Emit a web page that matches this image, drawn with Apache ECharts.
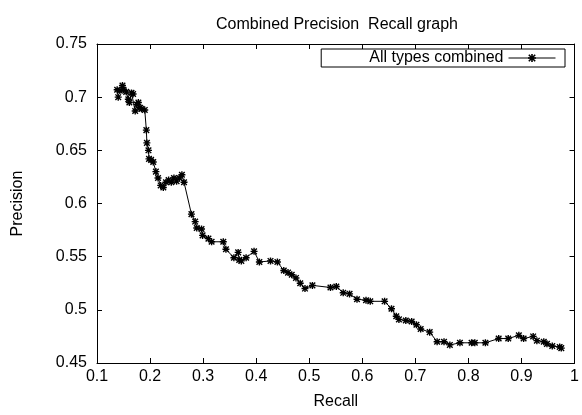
<!DOCTYPE html>
<html>
<head>
<meta charset="utf-8">
<script src="https://cdn.jsdelivr.net/npm/echarts@6/dist/echarts.min.js"></script>
<style>
html,body{margin:0;padding:0;background:#fff;}
#chart{width:582px;height:415px;}
</style>
</head>
<body>
<div id="chart"></div>
<script>
var titleText = 'Combined Precision  Recall graph';
var seriesName = 'All types combined';
var recall = [0.140,0.138,0.143,0.148,0.150,0.155,0.159,0.161,0.165,0.168,0.172,0.175,0.178,0.181,0.184,0.190,0.193,0.194,0.197,0.198,0.202,0.206,0.211,0.215,0.220,0.225,0.230,0.235,0.240,0.245,0.250,0.255,0.260,0.264,0.278,0.285,0.288,0.297,0.299,0.310,0.316,0.338,0.343,0.358,0.366,0.368,0.372,0.381,0.396,0.406,0.427,0.440,0.452,0.460,0.467,0.475,0.483,0.492,0.506,0.540,0.551,0.564,0.576,0.590,0.607,0.615,0.642,0.655,0.664,0.669,0.682,0.693,0.702,0.710,0.727,0.741,0.754,0.765,0.784,0.806,0.812,0.832,0.857,0.875,0.895,0.904,0.922,0.929,0.942,0.948,0.958,0.972,0.975];
var precision = [0.700,0.707,0.706,0.711,0.707,0.705,0.698,0.695,0.704,0.703,0.687,0.693,0.695,0.690,0.689,0.688,0.669,0.657,0.650,0.642,0.641,0.639,0.630,0.624,0.617,0.615,0.620,0.622,0.620,0.624,0.621,0.624,0.627,0.620,0.590,0.583,0.577,0.576,0.570,0.567,0.564,0.564,0.557,0.549,0.554,0.547,0.546,0.549,0.555,0.545,0.546,0.545,0.537,0.535,0.533,0.530,0.525,0.520,0.523,0.521,0.522,0.516,0.515,0.510,0.509,0.508,0.508,0.501,0.494,0.491,0.490,0.489,0.486,0.482,0.479,0.470,0.470,0.467,0.469,0.469,0.469,0.469,0.473,0.473,0.476,0.473,0.475,0.471,0.470,0.468,0.466,0.465,0.464];
var xMin = 0.1, xMax = 1.0, xStep = 0.1;
var yMin = 0.45, yMax = 0.75, yStep = 0.05;

var data = recall.map(function(r, i){ return [r, precision[i]]; });
var star = 'path://M-1,-5L1,-5L1,5L-1,5Z M-5,-1L5,-1L5,1L-5,1Z M-3.3,-4.7L4.7,3.3L3.3,4.7L-4.7,-3.3Z M3.3,-4.7L4.7,-3.3L-3.3,4.7L-4.7,3.3Z';
var font = 'Liberation Sans, Arial, sans-serif';
var fs = 16;
function fmt(v){ return String(+v.toFixed(2)); }
var axisLine = {show:true, lineStyle:{color:'#000', width:1}};
var tick = {show:true, inside:true, length:5, lineStyle:{color:'#000'}};

var chart = echarts.init(document.getElementById('chart'), null, {renderer:'canvas'});
chart.setOption({
  animation:false,
  backgroundColor:'#fff',
  title:{text:titleText, left:332, textAlign:'center', top:12,
    textStyle:{fontFamily:font, fontSize:16, fontWeight:'normal', color:'#000'}},
  legend:{right:17, top:49, align:'right', orient:'horizontal',
    borderColor:'#000', borderWidth:1, borderRadius:0, padding:[1,9,1,48],
    itemWidth:47, itemHeight:10, itemGap:5,
    lineStyle:{width:1, color:'#000'},
    textStyle:{fontFamily:font, fontSize:fs, color:'#000'},
    data:[{name:seriesName}]},
  grid:{left:97, right:7, top:44, bottom:48, containLabel:false},
  xAxis:[{type:'value', min:xMin, max:xMax, interval:xStep, position:'bottom',
      name:'Recall', nameLocation:'middle', nameGap:31,
      nameTextStyle:{fontFamily:font, fontSize:fs, color:'#000'},
      axisLine:axisLine, axisTick:tick, splitLine:{show:false},
      axisLabel:{fontFamily:font, fontSize:fs, color:'#000', margin:6, formatter:fmt}},
    {type:'value', min:xMin, max:xMax, interval:xStep, position:'top',
      axisLine:axisLine, axisTick:tick, splitLine:{show:false}, axisLabel:{show:false}}],
  yAxis:[{type:'value', min:yMin, max:yMax, interval:yStep, position:'left',
      name:'Precision', nameLocation:'middle', nameGap:71, nameRotate:90,
      nameTextStyle:{fontFamily:font, fontSize:fs, color:'#000'},
      axisLine:axisLine, axisTick:tick, splitLine:{show:false},
      axisLabel:{fontFamily:font, fontSize:fs, color:'#000', margin:10, formatter:fmt}},
    {type:'value', min:yMin, max:yMax, interval:yStep, position:'right',
      axisLine:axisLine, axisTick:tick, splitLine:{show:false}, axisLabel:{show:false}}],
  series:[{name:seriesName, type:'line', xAxisIndex:0, yAxisIndex:0, data:data,
    symbol:star, symbolSize:7, showAllSymbol:true,
    lineStyle:{color:'#000', width:1},
    itemStyle:{color:'#000'}}]
});
</script>
</body>
</html>
